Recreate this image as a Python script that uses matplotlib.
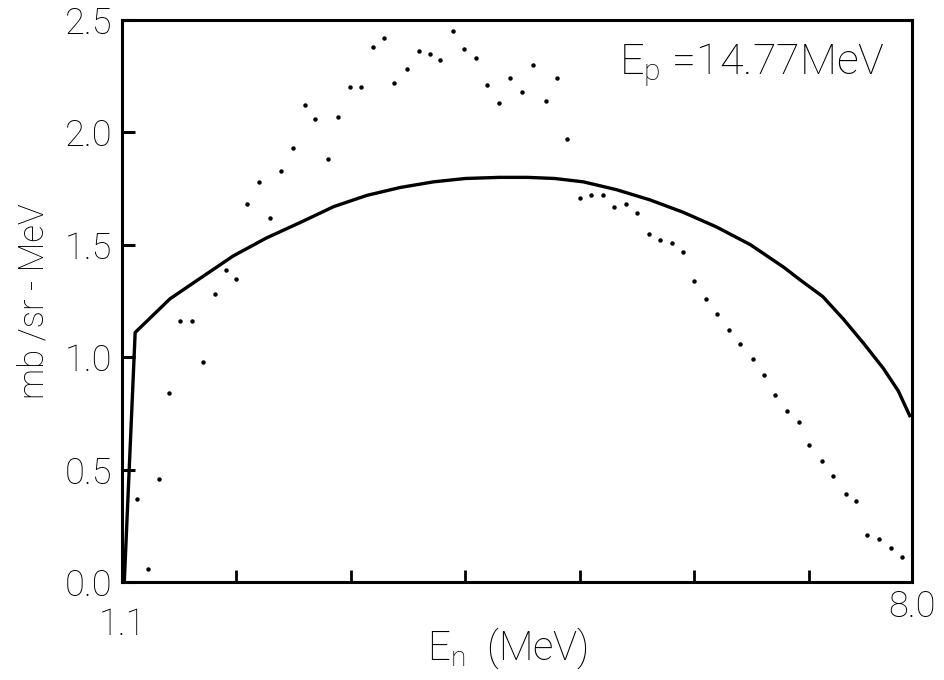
import numpy as np
import matplotlib
matplotlib.use("Agg")
import matplotlib.pyplot as plt

# measured neutron spectrum (dotted) and calculation (solid)
en_data = [1.23, 1.33, 1.42, 1.51, 1.61, 1.71, 1.81, 1.91, 2.01, 2.10, 2.19, 2.30,
           2.39, 2.49, 2.59, 2.70, 2.79, 2.90, 2.99, 3.09, 3.19, 3.29, 3.39, 3.48,
           3.59, 3.69, 3.79, 3.88, 3.99, 4.09, 4.19, 4.29, 4.39, 4.49, 4.59, 4.69,
           4.80, 4.90, 4.99, 5.10, 5.20, 5.30, 5.40, 5.50, 5.60, 5.70, 5.80, 5.90,
           6.00, 6.10, 6.20, 6.30, 6.40, 6.50, 6.61, 6.71, 6.80, 6.91, 7.01, 7.10,
           7.21, 7.31, 7.42, 7.51, 7.61, 7.71, 7.82, 7.91]
sig_data = [0.37, 0.06, 0.46, 0.84, 1.16, 1.16, 0.98, 1.28, 1.39, 1.35, 1.68, 1.78,
            1.62, 1.83, 1.93, 2.12, 2.06, 1.88, 2.07, 2.20, 2.20, 2.38, 2.42, 2.22,
            2.28, 2.36, 2.35, 2.32, 2.45, 2.37, 2.33, 2.21, 2.13, 2.24, 2.18, 2.30,
            2.14, 2.24, 1.97, 1.71, 1.72, 1.72, 1.67, 1.68, 1.64, 1.55, 1.52, 1.51,
            1.47, 1.34, 1.26, 1.19, 1.12, 1.06, 0.99, 0.92, 0.83, 0.76, 0.71, 0.61,
            0.54, 0.47, 0.39, 0.36, 0.21, 0.19, 0.15, 0.11]

en_calc = [1.12, 1.215, 1.52, 1.78, 2.07, 2.36, 2.66, 2.95, 3.24, 3.53, 3.82, 4.10,
           4.40, 4.64, 4.88, 5.13, 5.42, 5.71, 6.00, 6.29, 6.59, 6.88, 7.02, 7.22,
           7.40, 7.58, 7.75, 7.88, 7.98]
sig_calc = [0.0, 1.11, 1.26, 1.35, 1.45, 1.53, 1.60, 1.67, 1.72, 1.755, 1.78, 1.795,
            1.80, 1.80, 1.795, 1.78, 1.745, 1.70, 1.645, 1.58, 1.50, 1.40, 1.345, 1.27,
            1.17, 1.06, 0.95, 0.85, 0.74]

y_ticks = [0.0, 0.5, 1.0, 1.5, 2.0, 2.5]
y_labels = ["0.0", "0.5", "1.0", "1.5", "2.0", "2.5"]
x_minor = [2.1, 3.1, 4.1, 5.1, 6.1, 7.1]

plt.rcParams["font.family"] = ["Roboto", "DejaVu Sans"]
plt.rcParams["mathtext.fontset"] = "custom"
plt.rcParams["mathtext.rm"] = "Roboto:light"
plt.rcParams["mathtext.it"] = "Roboto:light"

fig = plt.figure(figsize=(9.45, 6.8), dpi=100)
ax = fig.add_axes([122 / 945, 1 - 582 / 680, 790 / 945, 562 / 680])

ax.plot(en_calc, sig_calc, color="black", lw=2.4, solid_joinstyle="round")
ax.plot(en_data, sig_data, ls="none", marker="o", ms=2.2, color="black")

ax.set_xlim(1.1, 8.0)
ax.set_ylim(0.0, 2.5)
for s in ax.spines.values():
    s.set_linewidth(2.2)

ax.set_yticks(y_ticks)
ax.set_yticklabels(y_labels, fontsize=26, fontweight="light")
ax.tick_params(axis="y", direction="in", length=9, width=2.2, pad=7)

# end labels of the energy axis, minor ticks in between
ax.set_xticks([1.1])
ax.set_xticklabels(["1.1"], fontsize=26, fontweight="light")
ax.set_xticks(x_minor, minor=True)
ax.tick_params(axis="x", which="major", length=0, pad=18)
ax.tick_params(axis="x", which="minor", direction="in", length=9, width=2)
ax.text(8.0, -0.045, "8.0", transform=ax.get_xaxis_transform(),
        ha="center", va="center", fontsize=26, fontweight="light")

fig.text(507 / 945, 1 - 648 / 680, r"E$_{\rm n}$  (MeV)", ha="center", va="center",
         fontsize=29, fontweight="light")
ax.set_ylabel("mb /sr - MeV", fontsize=25, fontweight="light", labelpad=10)

ax.text(0.966, 0.92, r"E$_{\rm p}$ =14.77MeV", transform=ax.transAxes,
        ha="right", va="center", fontsize=31, fontweight="light")

fig.savefig("out.png", dpi=100)
